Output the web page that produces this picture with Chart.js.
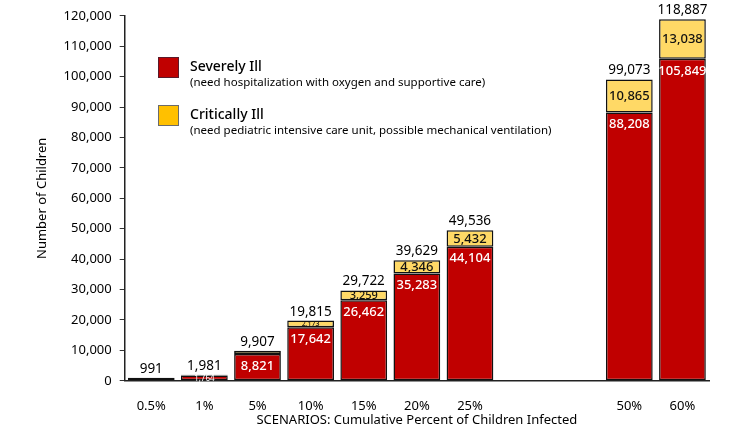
<!DOCTYPE html>
<html>
<head>
<meta charset="utf-8">
<script src="https://cdn.jsdelivr.net/npm/chart.js@4.4.1/dist/chart.umd.min.js"></script>
<style>
html,body{margin:0;padding:0;background:#fff;}
#wrap{width:735px;height:431px;position:relative;}
</style>
</head>
<body>
<div id="wrap"><canvas id="c" width="735" height="431"></canvas></div>
<script>
const categories = ['0.5%','1%','5%','10%','15%','20%','25%','','','50%','60%'];
const severeValues = [882,1764,8821,17642,26462,35283,44104,null,null,88208,105849];
const criticalValues = [109,217,1086,2173,3259,4346,5432,null,null,10865,13038];
const totalValues = [991,1981,9907,19815,29722,39629,49536,null,null,99073,118887];
const seriesNames = ['Severely Ill','Critically Ill'];
const seriesNotes = ['(need hospitalization with oxygen and supportive care)','(need pediatric intensive care unit, possible mechanical ventilation)'];

const FONT = '"Noto Sans", "Open Sans", sans-serif';
const fmt = v => v.toLocaleString('en-US');

const labelPlugin = {
  id: 'labels',
  afterDatasetsDraw(chart) {
    const ctx = chart.ctx;
    const m0 = chart.getDatasetMeta(0), m1 = chart.getDatasetMeta(1);
    ctx.save();
    ctx.textAlign = 'center';
    ctx.textBaseline = 'middle';
    for (let i = 0; i < categories.length; i++) {
      if (totalValues[i] == null) continue;
      const b0 = m0.data[i], b1 = m1.data[i];
      const h0 = b0.base - b0.y;
      ctx.fillStyle = '#fff';
      if (h0 >= 14) {
        ctx.font = '500 13px ' + FONT;
        ctx.fillText(fmt(severeValues[i]), b0.x, b0.y + 12);
      } else if (h0 >= 4) {
        ctx.font = '8px ' + FONT;
        ctx.fillText(fmt(severeValues[i]), b0.x, b0.y + h0 / 2 + 1);
      }
      const h1 = b1.base - b1.y;
      ctx.fillStyle = '#111';
      let fs = 0;
      if (h1 >= 12) fs = 13; else if (h1 >= 8) fs = 11; else if (h1 >= 5) fs = 7;
      if (fs) {
        ctx.font = '500 ' + fs + 'px ' + FONT;
        ctx.fillText(fmt(criticalValues[i]), b1.x, (b1.y + b1.base) / 2 + 0.5);
      }
      ctx.fillStyle = '#000';
      ctx.font = '13.5px ' + FONT;
      ctx.textBaseline = 'alphabetic';
      ctx.fillText(fmt(totalValues[i]), b1.x, b1.y - 5);
      ctx.textBaseline = 'middle';
    }
    const boxes = [
      {fill:'#C00000', stroke:'#5a1a2a', y:57},
      {fill:'#FFC000', stroke:'#6b6b6b', y:105}
    ];
    boxes.forEach((b, k) => {
      ctx.fillStyle = b.fill;
      ctx.fillRect(158, b.y, 21, 21);
      ctx.lineWidth = 1;
      ctx.strokeStyle = b.stroke;
      ctx.strokeRect(158.5, b.y + 0.5, 20, 20);
      ctx.textAlign = 'left';
      ctx.textBaseline = 'alphabetic';
      ctx.fillStyle = '#000';
      ctx.font = '500 14px ' + FONT;
      ctx.fillText(seriesNames[k], 190, b.y + 14);
      ctx.font = '11.5px ' + FONT;
      ctx.fillText(seriesNotes[k], 190, b.y + 29);
    });
    ctx.restore();
  }
};

new Chart(document.getElementById('c'), {
  type: 'bar',
  data: {
    labels: categories,
    datasets: [
      {label: seriesNames[0], data: severeValues, backgroundColor: '#C00000', borderColor: '#111', borderWidth: 1.5, borderSkipped: false},
      {label: seriesNames[1], data: criticalValues, backgroundColor: '#FFD966', borderColor: '#111', borderWidth: 1.5, borderSkipped: false}
    ]
  },
  options: {
    responsive: false,
    animation: false,
    devicePixelRatio: 1,
    layout: {padding: {top: 12, right: 26, left: 34, bottom: 0}},
    datasets: {bar: {categoryPercentage: 1, barPercentage: 0.88}},
    plugins: {legend: {display: false}, tooltip: {enabled: false}},
    scales: {
      x: {
        stacked: true,
        grid: {display: false, drawTicks: false},
        border: {display: true, color: '#222', width: 1.5},
        ticks: {color: '#000', font: {family: FONT, size: 13}, padding: 18, maxRotation: 0, autoSkip: false},
        title: {display: true, text: 'SCENARIOS: Cumulative Percent of Children Infected', color: '#000', font: {family: FONT, size: 13}, padding: {top: -20, bottom: 3}}
      },
      y: {
        stacked: true,
        min: 0, max: 120000,
        grid: {drawOnChartArea: false, drawTicks: true, tickLength: 5, color: '#333', lineWidth: 1},
        border: {display: true, color: '#222', width: 1.5},
        ticks: {stepSize: 5000, color: '#000', padding: 8, font: {family: FONT, size: 13},
          callback: v => (v % 10000 === 0 ? fmt(v) : '')},
        title: {display: true, text: 'Number of Children', color: '#000', font: {family: FONT, size: 13}, padding: {top: 0, bottom: 6}}
      }
    }
  },
  plugins: [labelPlugin]
});
</script>
</body>
</html>
